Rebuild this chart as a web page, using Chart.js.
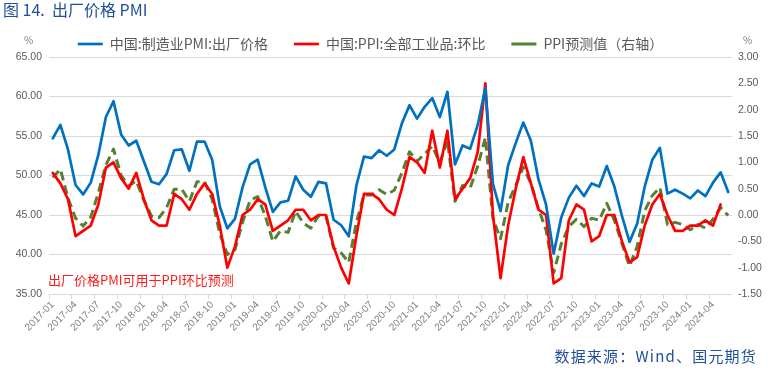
<!DOCTYPE html>
<html><head><meta charset="utf-8">
<script src="https://cdn.jsdelivr.net/npm/chart.js@4.4.1/dist/chart.umd.min.js"></script>
<style>
html,body{margin:0;padding:0;background:#fff;}
#wrap{position:relative;width:769px;height:372px;overflow:hidden;background:#fff;}
#c{position:absolute;left:0;top:0;}
.t{position:absolute;white-space:nowrap;font-family:"Noto Sans CJK SC","Noto Sans",sans-serif;}
</style></head><body>
<div id="wrap">
<canvas id="c" width="769" height="372"></canvas>
<div class="t" id="title" style="left:3px;top:0px;font-size:16px;line-height:19px;color:#1F4E9B;">图 14.&nbsp;&nbsp;出厂价格 PMI</div>
<div class="t" id="unitL" style="left:24px;top:34px;font-size:10px;line-height:12px;color:#7f7f7f;">%</div>
<div class="t" id="unitR" style="left:743px;top:34px;font-size:10px;line-height:12px;color:#7f7f7f;">%</div>
<div class="t" id="note" style="left:48px;top:271px;font-size:13px;line-height:18px;color:#FF1a1a;">出厂价格PMI可用于PPI环比预测</div>
<div class="t" id="src" style="right:12px;top:346px;font-size:15px;line-height:20px;color:#1F4E9B;letter-spacing:1.2px;">数据来源：Wind、国元期货</div>
</div>
<script>
// categories (monthly)
const months = [
 '2017-01','2017-02','2017-03','2017-04','2017-05','2017-06','2017-07','2017-08','2017-09','2017-10','2017-11','2017-12',
 '2018-01','2018-02','2018-03','2018-04','2018-05','2018-06','2018-07','2018-08','2018-09','2018-10','2018-11','2018-12',
 '2019-01','2019-02','2019-03','2019-04','2019-05','2019-06','2019-07','2019-08','2019-09','2019-10','2019-11','2019-12',
 '2020-01','2020-02','2020-03','2020-04','2020-05','2020-06','2020-07','2020-08','2020-09','2020-10','2020-11','2020-12',
 '2021-01','2021-02','2021-03','2021-04','2021-05','2021-06','2021-07','2021-08','2021-09','2021-10','2021-11','2021-12',
 '2022-01','2022-02','2022-03','2022-04','2022-05','2022-06','2022-07','2022-08','2022-09','2022-10','2022-11','2022-12',
 '2023-01','2023-02','2023-03','2023-04','2023-05','2023-06','2023-07','2023-08','2023-09','2023-10','2023-11','2023-12',
 '2024-01','2024-02','2024-03','2024-04','2024-05','2024-06'
];
// 中国:制造业PMI:出厂价格 (left axis)
const pmiOutput = [
 54.7,56.4,53.3,48.8,47.6,49.1,52.6,57.4,59.4,55.2,53.8,54.4,
 51.8,49.2,48.9,50.2,53.2,53.3,50.6,54.3,54.3,52.0,46.1,43.3,
 44.5,48.5,51.4,52.0,48.5,45.4,46.6,46.8,49.9,48.2,47.3,49.2,
 49.0,44.4,43.7,42.3,48.7,52.4,52.2,53.2,52.5,53.3,56.6,58.9,
 57.2,58.7,59.8,57.4,60.6,51.4,53.8,53.4,56.4,61.1,48.9,45.5,
 51.3,54.1,56.7,54.4,49.5,46.3,40.1,44.7,47.2,48.7,47.4,49.0,
 48.6,51.2,48.6,44.9,41.6,43.9,48.6,52.0,53.5,47.7,48.2,47.7,
 47.1,48.1,47.4,49.1,50.4,47.9
];
// 中国:PPI:全部工业品:环比 (right axis)
const ppiMoM = [
 0.8,0.6,0.3,-0.4,-0.3,-0.2,0.2,0.9,1.0,0.7,0.5,0.8,
 0.3,-0.1,-0.2,-0.2,0.4,0.3,0.1,0.4,0.6,0.4,-0.2,-1.0,
 -0.6,0.0,0.1,0.3,0.2,-0.3,-0.2,-0.1,0.1,0.1,-0.1,0.0,
 0.0,-0.6,-1.0,-1.3,-0.4,0.4,0.4,0.3,0.1,0.0,0.5,1.1,
 1.0,0.8,1.6,0.9,1.6,0.3,0.5,0.7,1.2,2.5,0.0,-1.2,
 -0.2,0.5,1.1,0.6,0.1,0.0,-1.3,-1.2,-0.1,0.2,0.1,-0.5,
 -0.4,0.0,0.0,-0.5,-0.9,-0.8,-0.2,0.2,0.4,0.0,-0.3,-0.3,
 -0.2,-0.2,-0.1,-0.2,0.2,null
];
// PPI预测值（右轴）
const ppiForecast = [
 0.71,0.87,0.32,-0.06,-0.21,-0.04,0.42,0.95,1.25,0.75,0.55,0.65,
 0.28,-0.02,-0.05,0.14,0.49,0.49,0.26,0.63,0.63,0.30,-0.35,-0.75,
 -0.66,-0.14,0.28,0.35,-0.02,-0.50,-0.30,-0.33,0.07,-0.15,-0.25,-0.02,
 -0.02,-0.63,-0.72,-0.90,-0.14,0.38,0.38,0.48,0.39,0.47,0.80,1.20,
 1.02,1.16,1.31,0.99,1.42,0.26,0.56,0.51,0.93,1.47,-0.07,-0.45,
 0.24,0.56,0.91,0.60,0.12,-0.29,-1.10,-0.55,-0.22,-0.08,-0.22,-0.06,
 -0.10,0.22,-0.10,-0.54,-0.97,-0.60,0.08,0.37,0.52,-0.18,-0.14,-0.18,
 -0.28,-0.18,-0.25,-0.08,0.14,-0.01
];
const leftTicks = {min:35, max:65, step:5};
const rightTicks = {min:-1.5, max:3, step:0.5};
const seriesNames = ['中国:制造业PMI:出厂价格','中国:PPI:全部工业品:环比','PPI预测值（右轴）'];

const LEG_H = 46;
const LEG_SHIFT = -14;
const legendFix = {
  id:'legendFix',
  afterInit(chart){
    const lg = chart.legend;
    if(!lg) return;
    const orig = lg.fit.bind(lg);
    lg.fit = function(){ orig(); this.height = LEG_H; };
  },
  afterLayout(chart){
    const lg = chart.legend;
    if(!lg) return;
    lg.left += LEG_SHIFT; lg.right += LEG_SHIFT;
  }
};

const tickFont = {family:'"Liberation Sans", Arial, sans-serif', size:10.5};
new Chart(document.getElementById('c'), {
  type:'line',
  data:{
    labels: months,
    datasets:[
      {label:seriesNames[0], data:pmiOutput, yAxisID:'yL', borderColor:'#0070C0', backgroundColor:'#0070C0',
       borderWidth:2.7, pointRadius:0, tension:0, borderJoinStyle:'round', borderCapStyle:'round'},
      {label:seriesNames[1], data:ppiMoM, yAxisID:'yR', borderColor:'#FF0000', backgroundColor:'#FF0000',
       borderWidth:2.7, pointRadius:0, tension:0, borderJoinStyle:'round', borderCapStyle:'round'},
      {label:seriesNames[2], data:ppiForecast, yAxisID:'yR', borderColor:'#548235', backgroundColor:'#548235',
       borderWidth:3, borderDash:[9,5], pointRadius:0, tension:0, borderJoinStyle:'round'}
    ]
  },
  options:{
    responsive:false, animation:false,
    layout:{padding:{left:0, right:0, top:11, bottom:33}},
    plugins:{
      legend:{
        position:'top',
        labels:{usePointStyle:true, pointStyle:'line', pointStyleWidth:25, boxHeight:14,
          color:'#595959', padding:26,
          font:{family:'"Noto Sans CJK SC","Noto Sans",sans-serif', size:14}}
      },
      tooltip:{enabled:false}
    },
    scales:{
      x:{
        offset:true,
        grid:{offset:true, drawOnChartArea:false, drawTicks:true, tickLength:5,
          color:c => (c.index % 3 === 0 ? '#d9d9d9' : 'rgba(0,0,0,0)')},
        border:{display:false},
        ticks:{autoSkip:false, minRotation:45, maxRotation:45, padding:0, color:'#7f7f7f',
          font:{family:'"Liberation Sans", Arial, sans-serif', size:10},
          callback:(v,i) => (i % 3 === 0 ? months[i] : '')},
        afterFit:s => { s.height = 45; }
      },
      yL:{
        position:'left', min:leftTicks.min, max:leftTicks.max,
        ticks:{stepSize:leftTicks.step, padding:7, color:'#595959', font:tickFont, callback:v => Number(v).toFixed(2)},
        grid:{color:'#d9d9d9', lineWidth:1, drawTicks:false},
        border:{display:false},
        afterFit:s => { s.width = 49; }
      },
      yR:{
        position:'right', min:rightTicks.min, max:rightTicks.max,
        ticks:{stepSize:rightTicks.step, padding:6, color:'#595959', font:tickFont, callback:v => Number(v).toFixed(2)},
        grid:{drawOnChartArea:false, drawTicks:false},
        border:{display:false},
        afterFit:s => { s.width = 37; }
      }
    }
  },
  plugins:[legendFix]
});
</script>
</body></html>
